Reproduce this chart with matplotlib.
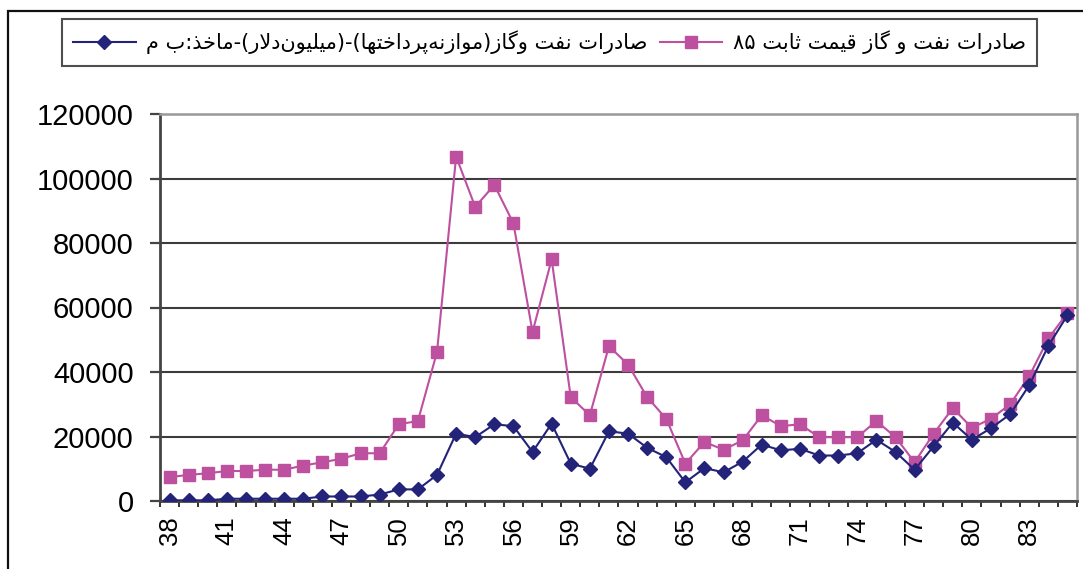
import matplotlib
matplotlib.use("Agg")
import matplotlib.pyplot as plt
from matplotlib.patches import Rectangle
from matplotlib.ticker import FixedLocator, NullFormatter, FixedFormatter

# ---------------- data ----------------
years = list(range(38, 86))
tick_labels = [str(y) for y in range(38, 86, 3)]

nominal = [200, 200, 200, 700, 700, 700, 700, 700, 1400, 1400, 1400, 2000,
           3600, 3600, 8100, 20900, 19800, 23800, 23200, 15200, 24000, 11600,
           10000, 21600, 20900, 16500, 13600, 5800, 10200, 8900, 12200, 17500,
           15700, 16200, 14100, 14100, 14800, 19000, 15200, 9700, 17000, 24300,
           19000, 22600, 26900, 35900, 48100, 57600]

constant85 = [7400, 8100, 8600, 9300, 9300, 9700, 9700, 11000, 12000, 13100,
              14800, 14800, 23800, 24800, 46200, 106800, 91200, 98000, 86100,
              52400, 74900, 32200, 26600, 48000, 42300, 32200, 25500, 11600,
              18300, 15900, 18800, 26600, 23200, 23800, 19800, 19800, 19800,
              24800, 19800, 12000, 20900, 28800, 22700, 25500, 30000, 38700,
              50400, 58300]

label_nominal = "صادرات نفت وگاز(موازنه‌پرداختها)-(میلیون‌دلار)-ماخذ:ب م"
label_constant = "صادرات نفت و گاز قیمت ثابت ۸۵"

# ---------------- simple Persian shaping for display ----------------
FORMS = {
    'ا': ('\uFE8D', '\uFE8E', None, None),
    'ب': ('\uFE8F', '\uFE90', '\uFE91', '\uFE92'),
    'پ': ('\uFB56', '\uFB57', '\uFB58', '\uFB59'),
    'ت': ('\uFE95', '\uFE96', '\uFE97', '\uFE98'),
    'ث': ('\uFE99', '\uFE9A', '\uFE9B', '\uFE9C'),
    'خ': ('\uFEA5', '\uFEA6', '\uFEA7', '\uFEA8'),
    'د': ('\uFEA9', '\uFEAA', None, None),
    'ذ': ('\uFEAB', '\uFEAC', None, None),
    'ر': ('\uFEAD', '\uFEAE', None, None),
    'ز': ('\uFEAF', '\uFEB0', None, None),
    'ص': ('\uFEB9', '\uFEBA', '\uFEBB', '\uFEBC'),
    'ف': ('\uFED1', '\uFED2', '\uFED3', '\uFED4'),
    'ق': ('\uFED5', '\uFED6', '\uFED7', '\uFED8'),
    'گ': ('\uFB92', '\uFB93', '\uFB94', '\uFB95'),
    'ل': ('\uFEDD', '\uFEDE', '\uFEDF', '\uFEE0'),
    'م': ('\uFEE1', '\uFEE2', '\uFEE3', '\uFEE4'),
    'ن': ('\uFEE5', '\uFEE6', '\uFEE7', '\uFEE8'),
    'ه': ('\uFEE9', '\uFEEA', '\uFEEB', '\uFEEC'),
    'و': ('\uFEED', '\uFEEE', None, None),
    'ی': ('\uFBFC', '\uFBFD', '\uFBFE', '\uFBFF'),
    'LA': ('\uFEFB', '\uFEFC', None, None),
}
MIRROR = {'(': ')', ')': '('}
DIGITS = set('0123456789۰۱۲۳۴۵۶۷۸۹')


def persian_display(s):
    toks = []
    i = 0
    while i < len(s):
        if s[i] == 'ل' and i + 1 < len(s) and s[i + 1] == 'ا':
            toks.append('LA')
            i += 2
        else:
            toks.append(s[i])
            i += 1
    out = []
    n = len(toks)
    for i, c in enumerate(toks):
        if c not in FORMS:
            if c == '\u200c':
                continue
            out.append(MIRROR.get(c, c))
            continue
        jp = i > 0 and toks[i - 1] in FORMS and FORMS[toks[i - 1]][2] is not None
        jn = FORMS[c][2] is not None and i + 1 < n and toks[i + 1] in FORMS
        f = FORMS[c]
        if jp and jn:
            out.append(f[3])
        elif jp:
            out.append(f[1])
        elif jn:
            out.append(f[2])
        else:
            out.append(f[0])
    out = out[::-1]
    res = []
    run = []
    for ch in out:
        if ch in DIGITS:
            run.append(ch)
        else:
            if run:
                res.extend(run[::-1])
                run = []
            res.append(ch)
    if run:
        res.extend(run[::-1])
    return ''.join(res)


# ---------------- figure ----------------
W, H = 1083, 569
fig = plt.figure(figsize=(W / 100, H / 100), dpi=100)
fig.patch.set_facecolor('white')

ax = fig.add_axes([160 / W, 1 - 501 / H, (1077 - 160) / W, (501 - 114) / H])

pink = '#BE50A0'
navy = '#23237A'

ax.plot(years, nominal, color=navy, lw=1.5, marker='D', ms=7.5,
        mfc=navy, mec=navy, label=persian_display(label_nominal), zorder=4)
ax.plot(years, constant85, color=pink, lw=1.5, marker='s', ms=9,
        mfc=pink, mec=pink, label=persian_display(label_constant), zorder=3)

ax.set_xlim(37.5, 85.5)
ax.set_ylim(0, 120000)

ax.set_yticks(range(0, 120001, 20000))
ax.set_yticklabels([str(v) for v in range(0, 120001, 20000)])
ax.yaxis.grid(True, color='#3c3c3c', lw=1.5)
ax.set_axisbelow(True)

# x ticks: marks at category boundaries, labels at category centers
ax.xaxis.set_major_locator(FixedLocator([y - 0.5 for y in years] + [85.5]))
ax.xaxis.set_major_formatter(NullFormatter())
ax.xaxis.set_minor_locator(FixedLocator(list(range(38, 86, 3))))
ax.xaxis.set_minor_formatter(FixedFormatter(tick_labels))
ax.tick_params(axis='x', which='major', length=4.5, width=1.4, color='#333333', direction='out')
ax.tick_params(axis='x', which='minor', length=0, pad=11, labelrotation=90,
               labelsize=18.5, labelfontfamily='Liberation Sans')
ax.tick_params(axis='y', which='major', length=7, width=1.6, color='#444444', pad=12,
               labelsize=21, labelfontfamily='Liberation Sans')

for side in ['left', 'bottom']:
    ax.spines[side].set_color('#444444')
    ax.spines[side].set_linewidth(2)
for side in ['top', 'right']:
    ax.spines[side].set_color('#999999')
    ax.spines[side].set_linewidth(1.8)

# legend
leg = fig.legend(loc='center',
                 bbox_to_anchor=((63 + 1036) / 2 / W, 1 - 42.5 / H),
                 ncol=2, frameon=True, fancybox=False,
                 edgecolor='#222222', borderpad=0.55, handlelength=3.0,
                 handletextpad=0.5, columnspacing=0.6,
                 borderaxespad=0, prop={'family': 'DejaVu Sans', 'size': 15})
leg.get_frame().set_linewidth(1.5)

# outer chart border
fig.patches.append(Rectangle((8 / W, -0.2), 1.2, 1.2 - 11 / H,
                             transform=fig.transFigure, fill=False,
                             edgecolor='#111111', lw=1.6))

fig.savefig('out.png', dpi=100)
